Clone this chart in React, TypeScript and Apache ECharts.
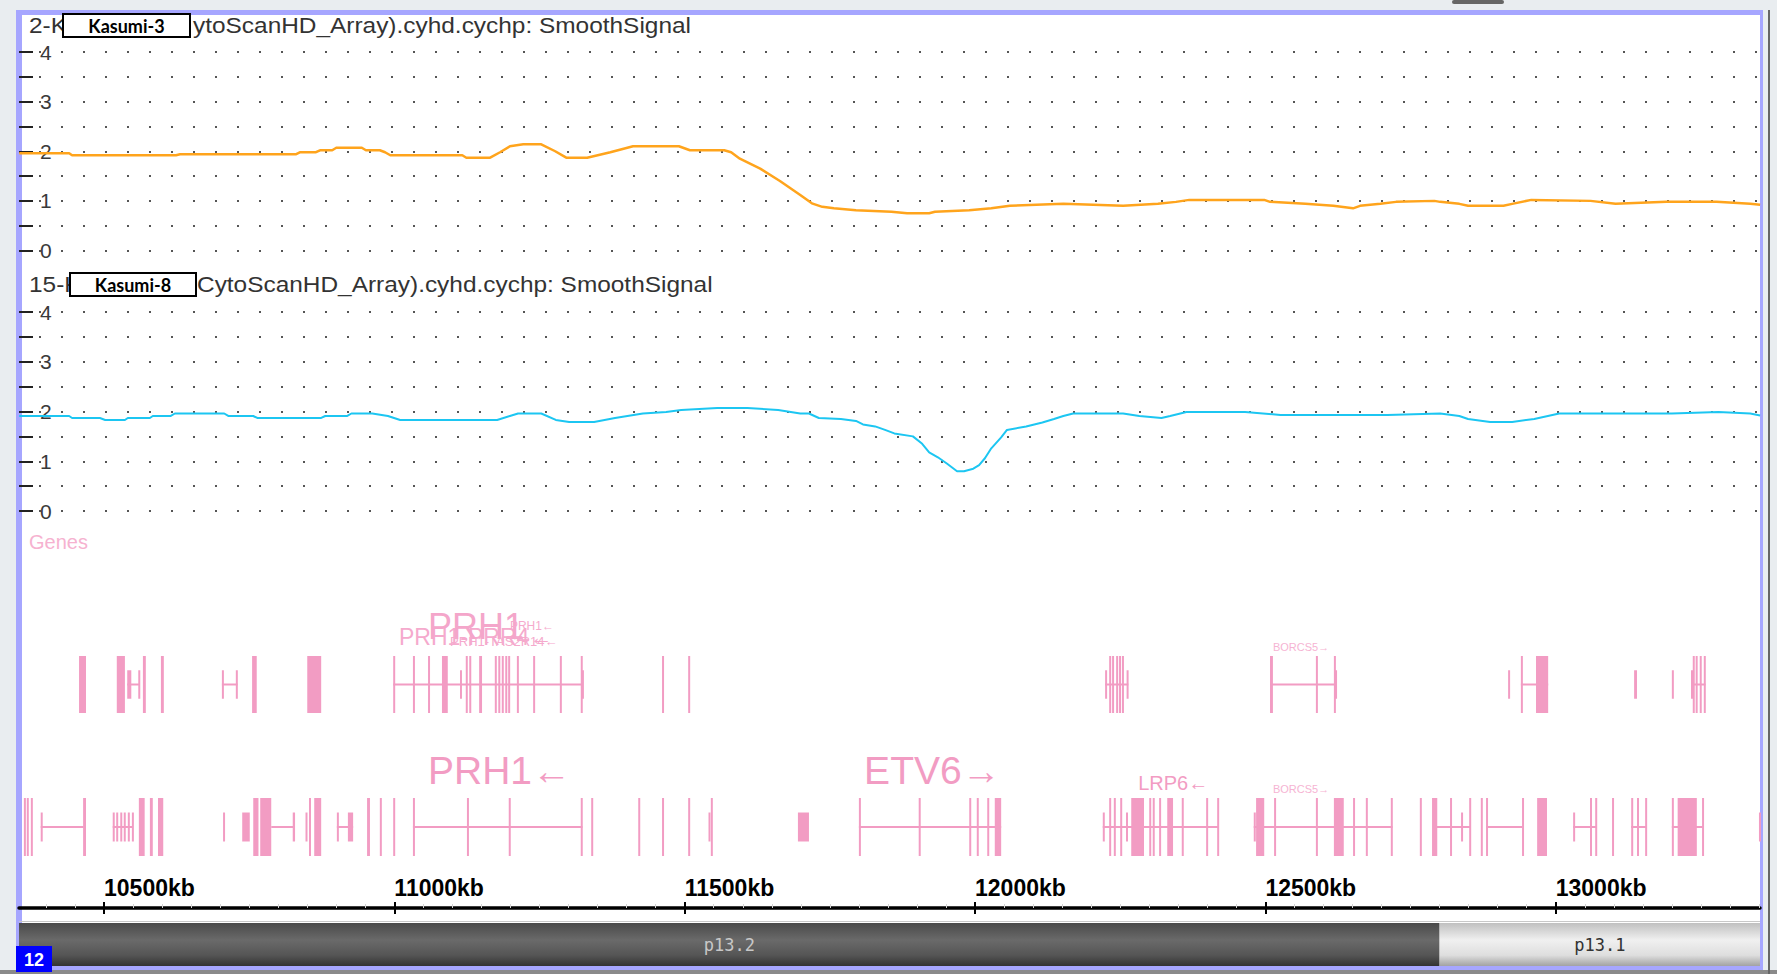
import React, { useEffect, useRef } from "react";
import * as echarts from "echarts";

// ---------- view range (kb) ----------
const X_MIN = 10353.6;
const X_MAX = 13351.8;
const KB_TICKS = [10500, 11000, 11500, 12000, 12500, 13000];
const Y_MIN = 0;
const Y_MAX = 4;

// ---------- SmoothSignal tracks ----------
const K3_POS = [10354, 10440, 10445, 10624, 10631, 10831, 10838, 10865, 10872, 10893, 10900, 10944, 10951, 10975, 10984, 10993, 11117, 11124, 11165, 11182, 11199, 11222, 11253, 11277, 11296, 11332, 11372, 11411, 11490, 11509, 11568, 11580, 11595, 11630, 11664, 11699, 11719, 11737, 11757, 11795, 11856, 11883, 11921, 11931, 11990, 12028, 12060, 12152, 12255, 12315, 12346, 12369, 12498, 12508, 12569, 12617, 12651, 12663, 12698, 12725, 12791, 12801, 12834, 12849, 12910, 12925, 12958, 13060, 13103, 13191, 13277, 13335, 13352];
const K3_SIGNAL = [1.96, 1.96, 1.92, 1.92, 1.94, 1.94, 1.98, 1.98, 2.02, 2.02, 2.07, 2.07, 2.02, 2.02, 1.98, 1.92, 1.92, 1.87, 1.87, 1.98, 2.1, 2.14, 2.14, 2.0, 1.87, 1.87, 1.98, 2.1, 2.1, 2.02, 2.02, 1.98, 1.85, 1.65, 1.4, 1.12, 0.95, 0.88, 0.85, 0.81, 0.78, 0.75, 0.75, 0.78, 0.81, 0.85, 0.9, 0.94, 0.9, 0.94, 0.98, 1.02, 1.02, 0.98, 0.94, 0.9, 0.85, 0.9, 0.94, 0.98, 1.0, 0.98, 0.94, 0.9, 0.9, 0.94, 1.02, 1.0, 0.94, 0.98, 0.98, 0.94, 0.92];

const K8_POS = [10354, 10440, 10445, 10493, 10502, 10536, 10541, 10579, 10584, 10615, 10622, 10707, 10714, 10757, 10764, 10874, 10881, 10919, 10926, 10962, 10989, 11010, 11177, 11199, 11213, 11253, 11278, 11301, 11344, 11380, 11428, 11468, 11494, 11556, 11608, 11661, 11699, 11714, 11731, 11769, 11795, 11807, 11828, 11845, 11861, 11893, 11909, 11921, 11936, 11952, 11969, 11981, 11997, 12007, 12017, 12028, 12045, 12055, 12088, 12116, 12136, 12152, 12169, 12255, 12283, 12321, 12336, 12364, 12465, 12526, 12710, 12801, 12834, 12849, 12887, 12925, 12963, 13006, 13200, 13280, 13335, 13352];
const K8_SIGNAL = [1.91, 1.91, 1.87, 1.87, 1.83, 1.83, 1.87, 1.87, 1.91, 1.91, 1.96, 1.96, 1.91, 1.91, 1.87, 1.87, 1.91, 1.91, 1.96, 1.96, 1.91, 1.83, 1.83, 1.91, 1.96, 1.96, 1.83, 1.79, 1.79, 1.87, 1.96, 1.99, 2.03, 2.07, 2.07, 2.03, 1.96, 1.96, 1.87, 1.85, 1.81, 1.74, 1.7, 1.63, 1.56, 1.5, 1.35, 1.18, 1.08, 0.95, 0.8, 0.8, 0.85, 0.92, 1.06, 1.26, 1.48, 1.63, 1.7, 1.78, 1.85, 1.91, 1.96, 1.96, 1.91, 1.87, 1.91, 1.99, 1.99, 1.93, 1.93, 1.96, 1.91, 1.85, 1.79, 1.79, 1.85, 1.96, 1.96, 1.99, 1.96, 1.92];

// ---------- Genes: exons [startKb, endKb, tall(1)/utr(0)], introns [startKb, endKb] ----------
const ROW1_EXONS = [
  [10457, 10469, 1], [10522, 10536, 1], [10540, 10547, 0], [10559, 10562, 0], [10567, 10572, 1], [10598, 10603, 1],
  [10703, 10706, 0], [10727, 10730, 0], [10755, 10763, 1], [10850, 10874, 1],
  [10998, 11001, 1], [11032, 11035, 1], [11058, 11061, 1], [11082, 11092, 1], [11113, 11116, 0], [11123, 11126, 1],
  [11129, 11132, 1], [11146, 11151, 1], [11173, 11176, 1], [11179, 11182, 1], [11185, 11188, 1], [11191, 11194, 1],
  [11196, 11199, 1], [11211, 11214, 1], [11239, 11242, 1], [11285, 11288, 1], [11321, 11324, 1], [11323, 11326, 0],
  [11461, 11464, 1], [11506, 11509, 1],
  [12224, 12227, 0], [12231, 12234, 1], [12236, 12239, 1], [12243, 12246, 1], [12248, 12251, 1], [12253, 12256, 1], [12261, 12264, 0],
  [12508, 12513, 1], [12587, 12590, 1], [12618, 12621, 1], [12620, 12623, 0],
  [12918, 12921, 0], [12940, 12943, 1], [12966, 12987, 1],
  [13135, 13140, 0], [13200, 13203, 0],
  [13233, 13236, 0], [13236, 13239, 1], [13241, 13244, 1], [13248, 13251, 1], [13255, 13258, 1],
];
const ROW1_INTRONS = [
  [10540, 10562], [10703, 10730], [10998, 11324], [12224, 12264], [12508, 12623], [12940, 12987], [13233, 13258],
];
const ROW2_EXONS = [
  [10362, 10365, 1], [10367, 10370, 1], [10374, 10377, 1], [10391, 10394, 0], [10464, 10469, 1],
  [10515, 10517, 0], [10521, 10523, 0], [10528, 10530, 0], [10534, 10536, 0], [10541, 10543, 0], [10548, 10550, 0],
  [10560, 10570, 1], [10579, 10584, 1], [10593, 10602, 1],
  [10705, 10708, 0], [10738, 10751, 0], [10757, 10766, 1], [10769, 10788, 1], [10825, 10829, 0],
  [10847, 10850, 0], [10853, 10856, 1], [10862, 10874, 1],
  [10901, 10904, 0], [10920, 10929, 0],
  [10953, 10958, 1], [10975, 10978, 1], [10998, 11001, 1],
  [11032, 11035, 1], [11125, 11128, 1], [11197, 11200, 1], [11321, 11324, 1],
  [11339, 11342, 1], [11420, 11423, 1], [11461, 11464, 1], [11506, 11509, 1], [11541, 11544, 0], [11545, 11548, 1],
  [11695, 11714, 0],
  [11800, 11803, 1], [11903, 11906, 1], [11990, 11993, 1], [12003, 12006, 1], [12021, 12024, 1], [12034, 12045, 1],
  [12220, 12223, 0], [12231, 12234, 1], [12239, 12242, 1], [12250, 12253, 1], [12260, 12263, 0], [12269, 12291, 1],
  [12300, 12303, 1], [12306, 12309, 1], [12317, 12320, 1], [12331, 12341, 1], [12356, 12359, 1], [12398, 12401, 1], [12417, 12420, 1],
  [12480, 12483, 0], [12484, 12498, 1], [12515, 12518, 1], [12587, 12590, 1], [12618, 12635, 1], [12651, 12654, 1], [12673, 12676, 1], [12716, 12719, 1],
  [12766, 12769, 1], [12787, 12796, 1], [12818, 12821, 1], [12837, 12840, 0], [12851, 12854, 1],
  [12871, 12874, 1], [12880, 12883, 1], [12942, 12945, 1], [12968, 12985, 1],
  [13030, 13033, 0], [13059, 13062, 1], [13068, 13071, 1], [13097, 13100, 1], [13130, 13133, 1], [13140, 13143, 1], [13154, 13157, 1],
  [13200, 13203, 1], [13210, 13243, 1], [13252, 13255, 1],
  [13350, 13352, 0],
];
const ROW2_INTRONS = [
  [10391, 10465], [10515, 10550], [10788, 10827], [10901, 10929], [11032, 11324], [11800, 12045], [12220, 12420],
  [12480, 12719], [12795, 12854], [12880, 12943], [13030, 13071], [13130, 13157], [13200, 13255],
];

// gene labels
const ROW1_LABEL_KB = [11008, 11058, 11096, 11199, 12513];
const ROW1_LABEL_TEXT = ["PRH1-PRR4\u2190", "PRH1", "PRH1-TAS2R14\u2190", "PRH1\u2190", "BORCS5\u2192"];
const ROW1_LABEL_TIER = ["md", "lg", "xs", "xxs", "tiny"];
const ROW2_LABEL_KB = [11058, 11809, 12281, 12513];
const ROW2_LABEL_TEXT = ["PRH1\u2190", "ETV6\u2192", "LRP6\u2190", "BORCS5\u2192"];
const ROW2_LABEL_TIER = ["xl", "xl", "sm", "tiny"];

// ---------- cytobands ----------
const BAND_START = [10100, 12800];
const BAND_END = [12800, 14800];
const BAND_NAME = ["p13.2", "p13.1"];
const BAND_STAIN = ["gpos75", "gneg"];

const PINK = "#f29cc3";
const FONT = "'Liberation Sans', Arial, sans-serif";

const TIER: Record<string, { size: number; dy: number; color: string }> = {
  xl: { size: 39, dy: -28, color: "#f29cc3" },
  lg: { size: 36, dy: -30, color: "#f4a6ca" },
  md: { size: 23, dy: -19, color: "#f5aacd" },
  sm: { size: 20, dy: -15, color: "#f29cc3" },
  xs: { size: 13, dy: -15, color: "#f5aacd" },
  xxs: { size: 12, dy: -30, color: "#f5aacd" },
  tiny: { size: 11, dy: -9, color: "#f6b4d3" },
};

const MINOR_TICKS: number[] = [];
for (let v = 10400; v <= 13350; v += 50) if (v % 500 !== 0) MINOR_TICKS.push(v);

function exonItem(params: any, api: any) {
  const a = api.coord([api.value(0), 1]);
  const b = api.coord([api.value(1), 0]);
  const tall = api.value(2) === 1;
  const h = b[1] - a[1];
  const y0 = tall ? a[1] : a[1] + h * 0.25;
  const hh = tall ? h : h * 0.5;
  const w = Math.max(2, b[0] - a[0]);
  return { type: "rect", shape: { x: a[0], y: y0, width: w, height: hh }, style: { fill: PINK } };
}
function intronItem(params: any, api: any) {
  const a = api.coord([api.value(0), 0.5]);
  const b = api.coord([api.value(1), 0.5]);
  return {
    type: "line",
    shape: { x1: a[0], y1: a[1], x2: b[0], y2: b[1] },
    style: { stroke: PINK, lineWidth: 2 },
  };
}
function labelRenderer(texts: string[], tiers: string[]) {
  return (params: any, api: any) => {
    const i = params.dataIndex;
    const p = api.coord([api.value(0), 1]);
    const t = TIER[tiers[i]];
    return {
      type: "text",
      x: p[0],
      y: p[1] + t.dy,
      style: { text: texts[i], fill: t.color, fontSize: t.size, fontFamily: FONT, align: "left", verticalAlign: "middle" },
    };
  };
}
function bandItem(params: any, api: any) {
  const i = params.dataIndex;
  const a = api.coord([api.value(0), 1]);
  const b = api.coord([api.value(1), 0]);
  const cs = params.coordSys;
  const x0 = Math.max(cs.x, a[0]);
  const x1 = Math.min(cs.x + cs.width, b[0]);
  if (x1 <= x0) return null;
  const dark = BAND_STAIN[i] === "gpos75";
  const fill = dark
    ? new echarts.graphic.LinearGradient(0, 0, 0, 1, [
        { offset: 0, color: "#4a4a4a" },
        { offset: 0.4, color: "#6a6a6a" },
        { offset: 0.75, color: "#555555" },
        { offset: 1, color: "#333333" },
      ])
    : new echarts.graphic.LinearGradient(0, 0, 0, 1, [
        { offset: 0, color: "#c0c0c0" },
        { offset: 0.4, color: "#f0f0f0" },
        { offset: 0.75, color: "#dedede" },
        { offset: 1, color: "#a2a2a2" },
      ]);
  return {
    type: "group",
    children: [
      { type: "rect", shape: { x: x0, y: a[1], width: x1 - x0, height: b[1] - a[1] }, style: { fill } },
      {
        type: "text",
        x: (x0 + x1) / 2,
        y: (a[1] + b[1]) / 2,
        style: {
          text: BAND_NAME[i],
          fill: dark ? "#c8c8c8" : "#333333",
          fontSize: 17,
          fontFamily: "'DejaVu Sans Mono', monospace",
          align: "center",
          verticalAlign: "middle",
        },
      },
    ],
  };
}

const hiddenX = (gi: number) => ({ type: "value", gridIndex: gi, min: X_MIN, max: X_MAX, show: false });

const signalY = (gi: number) => ({
  type: "value",
  gridIndex: gi,
  min: Y_MIN,
  max: Y_MAX,
  interval: 0.5,
  axisLine: { show: false },
  axisTick: { show: true, inside: true, length: 14, lineStyle: { color: "#222", width: 2 } },
  axisLabel: {
    inside: true,
    margin: 21,
    fontSize: 21,
    color: "#3a3a3a",
    fontFamily: FONT,
    formatter: (v: number) => (Number.isInteger(v) ? String(v) : ""),
  },
  splitLine: { show: true, lineStyle: { type: [2, 20], dashOffset: 2, width: 2, color: "#555" } },
});

function titleGroup(prefix: string, rest: string, box: string, y: number, boxX: number, boxW: number, restX: number) {
  return [
    { type: "text", x: 29, y, scaleX: 1.11, z: 10, style: { text: prefix, fill: "#333", fontSize: 22, fontFamily: FONT, verticalAlign: "middle" } },
    { type: "text", x: restX, y, scaleX: 1.11, z: 10, style: { text: rest, fill: "#333", fontSize: 22, fontFamily: FONT, verticalAlign: "middle" } },
    { type: "rect", z: 11, shape: { x: boxX, y: y - 11, width: boxW, height: 23 }, style: { fill: "#fff", stroke: "#000", lineWidth: 2 } },
    {
      type: "text",
      z: 12,
      x: boxX + boxW / 2,
      y: y + 1,
      style: { text: box, fill: "#000", fontSize: 18, fontWeight: "bold", fontFamily: "Lato, 'Open Sans', sans-serif", align: "center", verticalAlign: "middle" },
    },
  ];
}

export default function App() {
  const ref = useRef<HTMLDivElement>(null);
  useEffect(() => {
    document.body.style.margin = "0";
    const chart = echarts.init(ref.current!, null, { renderer: "svg" });
    const frameColor = "#a6a6ff";
    const option: any = {
      animation: false,
      grid: [
        { left: 19, width: 1741, top: 52, height: 198.5 },
        { left: 19, width: 1741, top: 312, height: 199 },
        { left: 19, width: 1741, top: 656, height: 57 },
        { left: 19, width: 1741, top: 798, height: 58 },
        { left: 19, width: 1741, top: 870, height: 38 },
        { left: 19, width: 1741, top: 923, height: 43 },
      ],
      xAxis: [
        hiddenX(0),
        hiddenX(1),
        hiddenX(2),
        hiddenX(3),
        {
          type: "value",
          gridIndex: 4,
          min: X_MIN,
          max: X_MAX,
          position: "bottom",
          axisLine: { show: true, lineStyle: { color: "#000", width: 3.5 } },
          axisTick: { show: true, inside: true, length: 6, customValues: KB_TICKS, lineStyle: { color: "#000", width: 2 } },
          axisLabel: {
            show: true,
            inside: true,
            customValues: KB_TICKS,
            align: "left",
            verticalAlign: "bottom",
            margin: 9,
            fontSize: 23,
            fontWeight: "bold",
            color: "#000",
            fontFamily: FONT,
            formatter: (v: number) => v + "kb",
          },
          splitLine: { show: false },
        },
        {
          type: "value",
          gridIndex: 4,
          min: X_MIN,
          max: X_MAX,
          position: "bottom",
          axisLine: { show: false },
          axisTick: { show: true, inside: false, length: 6, customValues: KB_TICKS, lineStyle: { color: "#000", width: 2 } },
          axisLabel: { show: false },
          splitLine: { show: false },
        },
        {
          type: "value",
          gridIndex: 4,
          min: X_MIN,
          max: X_MAX,
          position: "bottom",
          axisLine: { show: false },
          axisTick: { show: true, inside: true, length: 4, customValues: MINOR_TICKS, lineStyle: { color: "#d4d4d4", width: 1 } },
          axisLabel: { show: false },
          splitLine: { show: false },
        },
        hiddenX(5),
      ],
      yAxis: [
        signalY(0),
        signalY(1),
        { type: "value", gridIndex: 2, min: 0, max: 1, show: false },
        { type: "value", gridIndex: 3, min: 0, max: 1, show: false },
        { type: "value", gridIndex: 4, min: 0, max: 1, show: false },
        { type: "value", gridIndex: 5, min: 0, max: 1, show: false },
      ],
      series: [
        {
          type: "line",
          xAxisIndex: 0,
          yAxisIndex: 0,
          data: K3_POS.map((p, i) => [p, K3_SIGNAL[i]]),
          showSymbol: false,
          lineStyle: { color: "#ffa41c", width: 2.5 },
          z: 5,
        },
        {
          type: "line",
          xAxisIndex: 1,
          yAxisIndex: 1,
          data: K8_POS.map((p, i) => [p, K8_SIGNAL[i]]),
          showSymbol: false,
          lineStyle: { color: "#1cc6f2", width: 2 },
          z: 5,
        },
        { type: "custom", xAxisIndex: 2, yAxisIndex: 2, data: ROW1_INTRONS, renderItem: intronItem },
        { type: "custom", xAxisIndex: 2, yAxisIndex: 2, data: ROW1_EXONS, renderItem: exonItem },
        { type: "custom", xAxisIndex: 3, yAxisIndex: 3, data: ROW2_INTRONS, renderItem: intronItem },
        { type: "custom", xAxisIndex: 3, yAxisIndex: 3, data: ROW2_EXONS, renderItem: exonItem },
        {
          type: "custom",
          xAxisIndex: 2,
          yAxisIndex: 2,
          data: ROW1_LABEL_KB.map((k) => [k]),
          renderItem: labelRenderer(ROW1_LABEL_TEXT, ROW1_LABEL_TIER),
        },
        {
          type: "custom",
          xAxisIndex: 3,
          yAxisIndex: 3,
          data: ROW2_LABEL_KB.map((k) => [k]),
          renderItem: labelRenderer(ROW2_LABEL_TEXT, ROW2_LABEL_TIER),
        },
        {
          type: "custom",
          xAxisIndex: 7,
          yAxisIndex: 5,
          data: BAND_START.map((s, i) => [s, BAND_END[i]]),
          renderItem: bandItem,
        },
      ],
      graphic: {
        elements: [
          { type: "rect", z: -100, shape: { x: 0, y: 0, width: 1777, height: 974 }, style: { fill: "#e9edf0" } },
          { type: "rect", z: -99, shape: { x: 16, y: 10, width: 1747, height: 960 }, style: { fill: "#ffffff" } },
          { type: "rect", z: -98, shape: { x: 1452, y: 0, width: 52, height: 4, r: 2 }, style: { fill: "#666" } },
          { type: "rect", z: -98, shape: { x: 0, y: 970, width: 1777, height: 4 }, style: { fill: "#8a8a8a" } },
          { type: "rect", z: -98, shape: { x: 1768, y: 10, width: 2, height: 964 }, style: { fill: "#666" } },
          { type: "rect", z: -90, shape: { x: 16, y: 10, width: 6, height: 960 }, style: { fill: frameColor } },
          { type: "rect", z: -90, shape: { x: 16, y: 10, width: 1747, height: 5 }, style: { fill: frameColor } },
          { type: "rect", z: -90, shape: { x: 1760, y: 10, width: 3, height: 960 }, style: { fill: frameColor } },
          { type: "rect", z: -90, shape: { x: 16, y: 966, width: 1747, height: 4 }, style: { fill: frameColor } },
          { type: "rect", z: -80, shape: { x: 19, y: 921, width: 1741, height: 1 }, style: { fill: "#c8c8c8" } },
          ...titleGroup("2-K", "ytoScanHD_Array).cyhd.cychp: SmoothSignal", "Kasumi-3", 25, 63, 127, 193),
          ...titleGroup("15-K", "CytoScanHD_Array).cyhd.cychp: SmoothSignal", "Kasumi-8", 284, 70, 126, 197),
          {
            type: "text",
            x: 29,
            y: 542,
            z: 10,
            style: { text: "Genes", fill: "#f6b2d0", fontSize: 20, fontFamily: FONT, verticalAlign: "middle" },
          },
          { type: "rect", z: 20, shape: { x: 16, y: 946, width: 36, height: 26 }, style: { fill: "#0000ff" } },
          {
            type: "text",
            z: 21,
            x: 34,
            y: 960,
            style: { text: "12", fill: "#fff", fontSize: 18, fontWeight: "bold", fontFamily: FONT, align: "center", verticalAlign: "middle" },
          },
        ],
      },
    };
    chart.setOption(option);
    return () => chart.dispose();
  }, []);
  return <div ref={ref} style={{ width: 1777, height: 974 }} />;
}
